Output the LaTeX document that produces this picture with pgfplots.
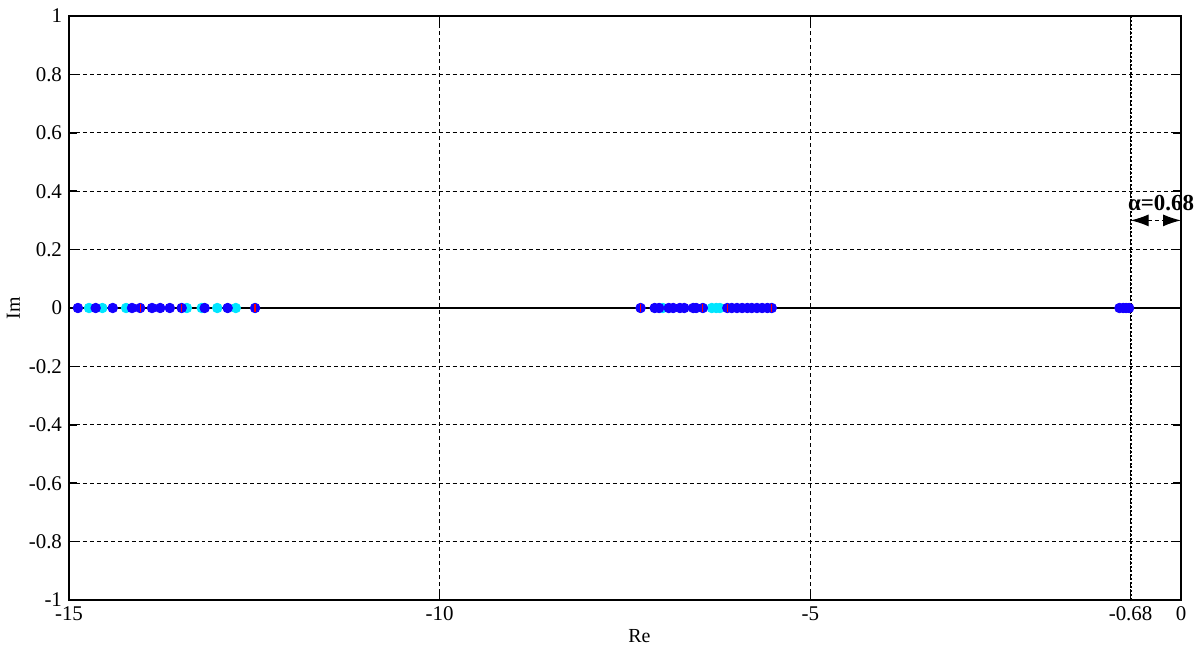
\documentclass[border=0pt]{standalone}
\usepackage{fontspec}
\setmainfont{Liberation Serif}
\usepackage{pgfplots}
\pgfplotsset{compat=1.18}
\usetikzlibrary{arrows.meta}
\begin{document}
\fontsize{10}{12}\selectfont
\begin{tikzpicture}
\begin{axis}[
  scale only axis,
  width=556bp, height=292bp,
  at={(0,0)}, anchor=south west,
  xmin=-15, xmax=0, ymin=-1, ymax=1,
  xtick={-15,-10,-5,-0.68,0},
  xticklabels={-15,-10,-5,-0.68,0},
  ytick={-1,-0.8,-0.6,-0.4,-0.2,0,0.2,0.4,0.6,0.8,1},
  yticklabels={-1,-0.8,-0.6,-0.4,-0.2,0,0.2,0.4,0.6,0.8,1},
  tick align=inside,
  major tick length=4bp,
  tick style={black, line width=0.8pt},
  axis line style={black, line width=0.8pt},
  grid=major,
  major grid style={black, line width=0.4pt, dash pattern=on 2pt off 1.5pt},
  xlabel={Re}, ylabel={Im},
  xlabel style={at={(axis description cs:0.513,0)}, anchor=north, yshift=-11bp},
  ylabel style={at={(axis description cs:0,0.5)}, anchor=south, yshift=21bp},
  tick label style={font=\fontsize{10.5}{12}\selectfont},
  /pgf/number format/assume math mode=true,
  clip=false,
]
% zero line
\addplot[black, line width=0.9pt, forget plot] coordinates {(-15,0) (0,0)};
% alpha vertical line
\addplot[black, line width=1.1pt, dash pattern=on 1pt off 1pt, forget plot] coordinates {(-0.68,-1) (-0.68,1)};
% cyan markers
\addplot[only marks, mark=*, mark size=2.4bp, color={rgb,255:red,0;green,230;blue,255}] coordinates {
(-14.73,0) (-14.55,0) (-14.23,0) (-13.41,0) (-13.21,0) (-13.00,0) (-12.75,0)
(-6.99,0) (-6.33,0) (-6.27,0) (-6.22,0)};
% blue markers
\addplot[only marks, mark=*, mark size=2.4bp, color={rgb,255:red,20;green,0;blue,255}] coordinates {
(-14.88,0) (-14.64,0) (-14.41,0) (-14.15,0) (-14.04,0) (-13.88,0) (-13.77,0)
(-13.64,0) (-13.48,0) (-13.17,0) (-12.86,0) (-12.49,0)
(-7.29,0) (-7.10,0) (-7.04,0) (-6.91,0) (-6.85,0) (-6.76,0) (-6.70,0)
(-6.58,0) (-6.54,0) (-6.45,0) (-6.12,0) (-6.06,0) (-5.99,0) (-5.92,0)
(-5.85,0) (-5.79,0) (-5.72,0) (-5.65,0) (-5.58,0) (-5.52,0)
(-0.83,0) (-0.78,0) (-0.74,0) (-0.70,0)};
% red inner marks
\addplot[only marks, mark=|, mark size=2.2bp, color=red, line width=0.6pt] coordinates {
(-14.04,0) (-13.48,0) (-12.49,0) (-7.29,0) (-6.45,0) (-6.12,0) (-5.52,0)};
% annotation
\draw[black, line width=0.6pt, dash pattern=on 2pt off 1.5pt, {Latex[length=9bp,width=6bp]}-{Latex[length=9bp,width=6bp]}]
  (axis cs:-0.68,0.30) -- (axis cs:0,0.30);
\node[anchor=south west, inner sep=0pt, font=\bfseries\fontsize{11.5}{13}\selectfont]
  at (axis cs:-0.72,0.33) {α=0.68};
\end{axis}
\pgfresetboundingbox
\path[use as bounding box] (-34.5bp,-25bp) rectangle (564bp,300bp);
\end{tikzpicture}
\end{document}
